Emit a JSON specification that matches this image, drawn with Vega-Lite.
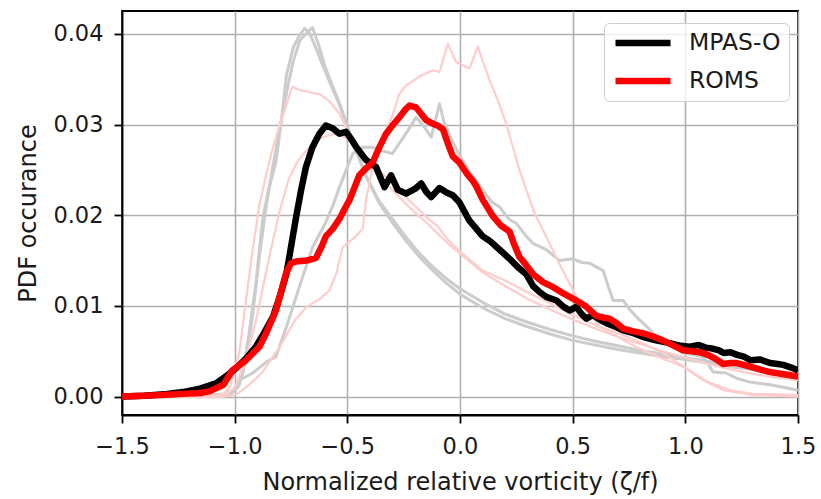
{
"$schema": "https://vega.github.io/schema/vega-lite/v6.json",
"width": 676, "height": 404,
"autosize": {"type": "none"},
"padding": {"left": 122, "top": 11, "right": 23, "bottom": 84},
"background": "white",
"config": {
  "font": "DejaVu Sans",
  "view": {"stroke": "black", "strokeWidth": 1.8},
  "axis": {"domainColor": "black", "domainWidth": 1.8, "tickColor": "black", "tickWidth": 1.8, "tickSize": 8,
    "gridColor": "#b0b0b0", "gridWidth": 1.6, "labelFont": "DejaVu Sans", "labelFontSize": 22.5, "labelColor": "#1a1a1a",
    "titleFont": "DejaVu Sans", "titleFontSize": 24, "titleFontWeight": "normal", "titleColor": "#1a1a1a",
    "labelFlush": false, "labelOverlap": false}
},
"datasets": {
"d": [
{"m":"MPAS-O","r":"mean","x":-1.5,"y":0},{"m":"MPAS-O","r":"mean","x":-1.4,"y":0.0001},{"m":"MPAS-O","r":"mean","x":-1.3,"y":0.0003},{"m":"MPAS-O","r":"mean","x":-1.23,"y":0.0005},{"m":"MPAS-O","r":"mean","x":-1.15,"y":0.0009},{"m":"MPAS-O","r":"mean","x":-1.08,"y":0.0015},{"m":"MPAS-O","r":"mean","x":-1.03,"y":0.0024},{"m":"MPAS-O","r":"mean","x":-0.995,"y":0.0031},{"m":"MPAS-O","r":"mean","x":-0.95,"y":0.0042},{"m":"MPAS-O","r":"mean","x":-0.906,"y":0.0055},{"m":"MPAS-O","r":"mean","x":-0.87,"y":0.007},{"m":"MPAS-O","r":"mean","x":-0.83,"y":0.0088},{"m":"MPAS-O","r":"mean","x":-0.8,"y":0.011},{"m":"MPAS-O","r":"mean","x":-0.77,"y":0.0136},{"m":"MPAS-O","r":"mean","x":-0.75,"y":0.0165},{"m":"MPAS-O","r":"mean","x":-0.728,"y":0.0197},{"m":"MPAS-O","r":"mean","x":-0.705,"y":0.0228},{"m":"MPAS-O","r":"mean","x":-0.684,"y":0.0253},{"m":"MPAS-O","r":"mean","x":-0.655,"y":0.0275},{"m":"MPAS-O","r":"mean","x":-0.624,"y":0.029},{"m":"MPAS-O","r":"mean","x":-0.595,"y":0.0299},{"m":"MPAS-O","r":"mean","x":-0.565,"y":0.0296},{"m":"MPAS-O","r":"mean","x":-0.535,"y":0.029},{"m":"MPAS-O","r":"mean","x":-0.506,"y":0.0292},{"m":"MPAS-O","r":"mean","x":-0.48,"y":0.0283},{"m":"MPAS-O","r":"mean","x":-0.46,"y":0.0275},{"m":"MPAS-O","r":"mean","x":-0.417,"y":0.0261},{"m":"MPAS-O","r":"mean","x":-0.372,"y":0.0253},{"m":"MPAS-O","r":"mean","x":-0.335,"y":0.0231},{"m":"MPAS-O","r":"mean","x":-0.306,"y":0.0244},{"m":"MPAS-O","r":"mean","x":-0.276,"y":0.0228},{"m":"MPAS-O","r":"mean","x":-0.239,"y":0.0224},{"m":"MPAS-O","r":"mean","x":-0.2,"y":0.0229},{"m":"MPAS-O","r":"mean","x":-0.172,"y":0.0235},{"m":"MPAS-O","r":"mean","x":-0.15,"y":0.0226},{"m":"MPAS-O","r":"mean","x":-0.128,"y":0.022},{"m":"MPAS-O","r":"mean","x":-0.091,"y":0.023},{"m":"MPAS-O","r":"mean","x":-0.06,"y":0.0225},{"m":"MPAS-O","r":"mean","x":-0.032,"y":0.0222},{"m":"MPAS-O","r":"mean","x":-0.002,"y":0.0214},{"m":"MPAS-O","r":"mean","x":0.042,"y":0.0194},{"m":"MPAS-O","r":"mean","x":0.1,"y":0.0177},{"m":"MPAS-O","r":"mean","x":0.131,"y":0.0172},{"m":"MPAS-O","r":"mean","x":0.176,"y":0.0162},{"m":"MPAS-O","r":"mean","x":0.22,"y":0.0152},{"m":"MPAS-O","r":"mean","x":0.26,"y":0.0142},{"m":"MPAS-O","r":"mean","x":0.294,"y":0.0135},{"m":"MPAS-O","r":"mean","x":0.324,"y":0.0122},{"m":"MPAS-O","r":"mean","x":0.355,"y":0.0115},{"m":"MPAS-O","r":"mean","x":0.383,"y":0.011},{"m":"MPAS-O","r":"mean","x":0.428,"y":0.0106},{"m":"MPAS-O","r":"mean","x":0.46,"y":0.0099},{"m":"MPAS-O","r":"mean","x":0.487,"y":0.0095},{"m":"MPAS-O","r":"mean","x":0.516,"y":0.0099},{"m":"MPAS-O","r":"mean","x":0.54,"y":0.0091},{"m":"MPAS-O","r":"mean","x":0.561,"y":0.0086},{"m":"MPAS-O","r":"mean","x":0.59,"y":0.009},{"m":"MPAS-O","r":"mean","x":0.62,"y":0.0085},{"m":"MPAS-O","r":"mean","x":0.65,"y":0.0081},{"m":"MPAS-O","r":"mean","x":0.69,"y":0.0077},{"m":"MPAS-O","r":"mean","x":0.724,"y":0.0073},{"m":"MPAS-O","r":"mean","x":0.77,"y":0.007},{"m":"MPAS-O","r":"mean","x":0.81,"y":0.0066},{"m":"MPAS-O","r":"mean","x":0.87,"y":0.0062},{"m":"MPAS-O","r":"mean","x":0.93,"y":0.0059},{"m":"MPAS-O","r":"mean","x":0.98,"y":0.0056},{"m":"MPAS-O","r":"mean","x":1.02,"y":0.0055},{"m":"MPAS-O","r":"mean","x":1.06,"y":0.0057},{"m":"MPAS-O","r":"mean","x":1.09,"y":0.0054},{"m":"MPAS-O","r":"mean","x":1.12,"y":0.0053},{"m":"MPAS-O","r":"mean","x":1.15,"y":0.0051},{"m":"MPAS-O","r":"mean","x":1.17,"y":0.0048},{"m":"MPAS-O","r":"mean","x":1.2,"y":0.0049},{"m":"MPAS-O","r":"mean","x":1.23,"y":0.0046},{"m":"MPAS-O","r":"mean","x":1.26,"y":0.0044},{"m":"MPAS-O","r":"mean","x":1.29,"y":0.004},{"m":"MPAS-O","r":"mean","x":1.33,"y":0.0041},{"m":"MPAS-O","r":"mean","x":1.376,"y":0.0037},{"m":"MPAS-O","r":"mean","x":1.41,"y":0.0036},{"m":"MPAS-O","r":"mean","x":1.435,"y":0.0035},{"m":"MPAS-O","r":"mean","x":1.47,"y":0.0032},{"m":"MPAS-O","r":"mean","x":1.5,"y":0.0029},
{"m":"ROMS","r":"mean","x":-1.5,"y":0},{"m":"ROMS","r":"mean","x":-1.4,"y":0.0001},{"m":"ROMS","r":"mean","x":-1.3,"y":0.0002},{"m":"ROMS","r":"mean","x":-1.23,"y":0.0003},{"m":"ROMS","r":"mean","x":-1.15,"y":0.0004},{"m":"ROMS","r":"mean","x":-1.11,"y":0.0006},{"m":"ROMS","r":"mean","x":-1.05,"y":0.0013},{"m":"ROMS","r":"mean","x":-1.01,"y":0.0029},{"m":"ROMS","r":"mean","x":-0.95,"y":0.004},{"m":"ROMS","r":"mean","x":-0.89,"y":0.0055},{"m":"ROMS","r":"mean","x":-0.86,"y":0.007},{"m":"ROMS","r":"mean","x":-0.817,"y":0.0095},{"m":"ROMS","r":"mean","x":-0.795,"y":0.0115},{"m":"ROMS","r":"mean","x":-0.772,"y":0.0136},{"m":"ROMS","r":"mean","x":-0.75,"y":0.0147},{"m":"ROMS","r":"mean","x":-0.728,"y":0.0149},{"m":"ROMS","r":"mean","x":-0.68,"y":0.015},{"m":"ROMS","r":"mean","x":-0.639,"y":0.0153},{"m":"ROMS","r":"mean","x":-0.615,"y":0.0165},{"m":"ROMS","r":"mean","x":-0.595,"y":0.0177},{"m":"ROMS","r":"mean","x":-0.565,"y":0.0185},{"m":"ROMS","r":"mean","x":-0.535,"y":0.0196},{"m":"ROMS","r":"mean","x":-0.51,"y":0.0208},{"m":"ROMS","r":"mean","x":-0.49,"y":0.0217},{"m":"ROMS","r":"mean","x":-0.447,"y":0.0244},{"m":"ROMS","r":"mean","x":-0.42,"y":0.0251},{"m":"ROMS","r":"mean","x":-0.388,"y":0.0258},{"m":"ROMS","r":"mean","x":-0.36,"y":0.0274},{"m":"ROMS","r":"mean","x":-0.328,"y":0.029},{"m":"ROMS","r":"mean","x":-0.3,"y":0.0299},{"m":"ROMS","r":"mean","x":-0.269,"y":0.0308},{"m":"ROMS","r":"mean","x":-0.245,"y":0.0316},{"m":"ROMS","r":"mean","x":-0.224,"y":0.0321},{"m":"ROMS","r":"mean","x":-0.195,"y":0.0319},{"m":"ROMS","r":"mean","x":-0.17,"y":0.0311},{"m":"ROMS","r":"mean","x":-0.15,"y":0.0305},{"m":"ROMS","r":"mean","x":-0.121,"y":0.0301},{"m":"ROMS","r":"mean","x":-0.1,"y":0.0299},{"m":"ROMS","r":"mean","x":-0.076,"y":0.0295},{"m":"ROMS","r":"mean","x":-0.055,"y":0.028},{"m":"ROMS","r":"mean","x":-0.032,"y":0.0265},{"m":"ROMS","r":"mean","x":-0.002,"y":0.0258},{"m":"ROMS","r":"mean","x":0.03,"y":0.0246},{"m":"ROMS","r":"mean","x":0.057,"y":0.0238},{"m":"ROMS","r":"mean","x":0.072,"y":0.0232},{"m":"ROMS","r":"mean","x":0.101,"y":0.0217},{"m":"ROMS","r":"mean","x":0.146,"y":0.0199},{"m":"ROMS","r":"mean","x":0.18,"y":0.0189},{"m":"ROMS","r":"mean","x":0.22,"y":0.0182},{"m":"ROMS","r":"mean","x":0.24,"y":0.0168},{"m":"ROMS","r":"mean","x":0.264,"y":0.0154},{"m":"ROMS","r":"mean","x":0.294,"y":0.0145},{"m":"ROMS","r":"mean","x":0.324,"y":0.0135},{"m":"ROMS","r":"mean","x":0.37,"y":0.0126},{"m":"ROMS","r":"mean","x":0.412,"y":0.0121},{"m":"ROMS","r":"mean","x":0.45,"y":0.0115},{"m":"ROMS","r":"mean","x":0.487,"y":0.011},{"m":"ROMS","r":"mean","x":0.53,"y":0.0104},{"m":"ROMS","r":"mean","x":0.561,"y":0.0099},{"m":"ROMS","r":"mean","x":0.605,"y":0.0089},{"m":"ROMS","r":"mean","x":0.64,"y":0.0087},{"m":"ROMS","r":"mean","x":0.664,"y":0.0086},{"m":"ROMS","r":"mean","x":0.7,"y":0.008},{"m":"ROMS","r":"mean","x":0.724,"y":0.0075},{"m":"ROMS","r":"mean","x":0.77,"y":0.0072},{"m":"ROMS","r":"mean","x":0.81,"y":0.007},{"m":"ROMS","r":"mean","x":0.86,"y":0.0066},{"m":"ROMS","r":"mean","x":0.9,"y":0.0062},{"m":"ROMS","r":"mean","x":0.95,"y":0.0056},{"m":"ROMS","r":"mean","x":0.99,"y":0.0051},{"m":"ROMS","r":"mean","x":1.03,"y":0.005},{"m":"ROMS","r":"mean","x":1.064,"y":0.0049},{"m":"ROMS","r":"mean","x":1.1,"y":0.0046},{"m":"ROMS","r":"mean","x":1.124,"y":0.0043},{"m":"ROMS","r":"mean","x":1.15,"y":0.0039},{"m":"ROMS","r":"mean","x":1.168,"y":0.0036},{"m":"ROMS","r":"mean","x":1.2,"y":0.0037},{"m":"ROMS","r":"mean","x":1.228,"y":0.0037},{"m":"ROMS","r":"mean","x":1.26,"y":0.0035},{"m":"ROMS","r":"mean","x":1.287,"y":0.0033},{"m":"ROMS","r":"mean","x":1.33,"y":0.003},{"m":"ROMS","r":"mean","x":1.376,"y":0.0027},{"m":"ROMS","r":"mean","x":1.43,"y":0.0025},{"m":"ROMS","r":"mean","x":1.5,"y":0.0022},
{"m":"MPAS-O","r":"a","x":-1.5,"y":0},{"m":"MPAS-O","r":"a","x":-1.2,"y":0},{"m":"MPAS-O","r":"a","x":-1.05,"y":0.0003},{"m":"MPAS-O","r":"a","x":-1.0,"y":0.0008},{"m":"MPAS-O","r":"a","x":-0.965,"y":0.0025},{"m":"MPAS-O","r":"a","x":-0.936,"y":0.007},{"m":"MPAS-O","r":"a","x":-0.906,"y":0.0125},{"m":"MPAS-O","r":"a","x":-0.876,"y":0.0195},{"m":"MPAS-O","r":"a","x":-0.85,"y":0.0228},{"m":"MPAS-O","r":"a","x":-0.817,"y":0.0258},{"m":"MPAS-O","r":"a","x":-0.79,"y":0.031},{"m":"MPAS-O","r":"a","x":-0.77,"y":0.0355},{"m":"MPAS-O","r":"a","x":-0.74,"y":0.0385},{"m":"MPAS-O","r":"a","x":-0.713,"y":0.0398},{"m":"MPAS-O","r":"a","x":-0.69,"y":0.0406},{"m":"MPAS-O","r":"a","x":-0.67,"y":0.0402},{"m":"MPAS-O","r":"a","x":-0.64,"y":0.0385},{"m":"MPAS-O","r":"a","x":-0.62,"y":0.0372},{"m":"MPAS-O","r":"a","x":-0.595,"y":0.0357},{"m":"MPAS-O","r":"a","x":-0.565,"y":0.0339},{"m":"MPAS-O","r":"a","x":-0.535,"y":0.0322},{"m":"MPAS-O","r":"a","x":-0.506,"y":0.0301},{"m":"MPAS-O","r":"a","x":-0.46,"y":0.0271},{"m":"MPAS-O","r":"a","x":-0.417,"y":0.0243},{"m":"MPAS-O","r":"a","x":-0.36,"y":0.0216},{"m":"MPAS-O","r":"a","x":-0.3,"y":0.0196},{"m":"MPAS-O","r":"a","x":-0.24,"y":0.0176},{"m":"MPAS-O","r":"a","x":-0.18,"y":0.0158},{"m":"MPAS-O","r":"a","x":-0.12,"y":0.0143},{"m":"MPAS-O","r":"a","x":-0.06,"y":0.013},{"m":"MPAS-O","r":"a","x":0,"y":0.0119},{"m":"MPAS-O","r":"a","x":0.1,"y":0.0104},{"m":"MPAS-O","r":"a","x":0.2,"y":0.0091},{"m":"MPAS-O","r":"a","x":0.3,"y":0.0082},{"m":"MPAS-O","r":"a","x":0.4,"y":0.0074},{"m":"MPAS-O","r":"a","x":0.5,"y":0.0067},{"m":"MPAS-O","r":"a","x":0.6,"y":0.0061},{"m":"MPAS-O","r":"a","x":0.7,"y":0.0056},{"m":"MPAS-O","r":"a","x":0.8,"y":0.0051},{"m":"MPAS-O","r":"a","x":0.9,"y":0.0047},{"m":"MPAS-O","r":"a","x":1.0,"y":0.0043},{"m":"MPAS-O","r":"a","x":1.1,"y":0.0039},{"m":"MPAS-O","r":"a","x":1.2,"y":0.0035},{"m":"MPAS-O","r":"a","x":1.3,"y":0.0031},{"m":"MPAS-O","r":"a","x":1.4,"y":0.0028},{"m":"MPAS-O","r":"a","x":1.5,"y":0.0025},
{"m":"MPAS-O","r":"b","x":-1.5,"y":0},{"m":"MPAS-O","r":"b","x":-1.2,"y":0},{"m":"MPAS-O","r":"b","x":-1.02,"y":0.0002},{"m":"MPAS-O","r":"b","x":-0.98,"y":0.0012},{"m":"MPAS-O","r":"b","x":-0.95,"y":0.004},{"m":"MPAS-O","r":"b","x":-0.92,"y":0.009},{"m":"MPAS-O","r":"b","x":-0.89,"y":0.0155},{"m":"MPAS-O","r":"b","x":-0.86,"y":0.021},{"m":"MPAS-O","r":"b","x":-0.83,"y":0.0255},{"m":"MPAS-O","r":"b","x":-0.8,"y":0.0295},{"m":"MPAS-O","r":"b","x":-0.77,"y":0.0335},{"m":"MPAS-O","r":"b","x":-0.74,"y":0.037},{"m":"MPAS-O","r":"b","x":-0.71,"y":0.0393},{"m":"MPAS-O","r":"b","x":-0.68,"y":0.0401},{"m":"MPAS-O","r":"b","x":-0.655,"y":0.0407},{"m":"MPAS-O","r":"b","x":-0.63,"y":0.039},{"m":"MPAS-O","r":"b","x":-0.6,"y":0.0365},{"m":"MPAS-O","r":"b","x":-0.57,"y":0.0345},{"m":"MPAS-O","r":"b","x":-0.54,"y":0.0327},{"m":"MPAS-O","r":"b","x":-0.51,"y":0.0306},{"m":"MPAS-O","r":"b","x":-0.47,"y":0.0277},{"m":"MPAS-O","r":"b","x":-0.42,"y":0.0245},{"m":"MPAS-O","r":"b","x":-0.36,"y":0.0214},{"m":"MPAS-O","r":"b","x":-0.3,"y":0.0192},{"m":"MPAS-O","r":"b","x":-0.24,"y":0.0172},{"m":"MPAS-O","r":"b","x":-0.18,"y":0.0154},{"m":"MPAS-O","r":"b","x":-0.12,"y":0.0139},{"m":"MPAS-O","r":"b","x":-0.06,"y":0.0125},{"m":"MPAS-O","r":"b","x":0,"y":0.0113},{"m":"MPAS-O","r":"b","x":0.1,"y":0.0098},{"m":"MPAS-O","r":"b","x":0.2,"y":0.0086},{"m":"MPAS-O","r":"b","x":0.3,"y":0.0077},{"m":"MPAS-O","r":"b","x":0.4,"y":0.0069},{"m":"MPAS-O","r":"b","x":0.5,"y":0.0062},{"m":"MPAS-O","r":"b","x":0.6,"y":0.0057},{"m":"MPAS-O","r":"b","x":0.7,"y":0.0052},{"m":"MPAS-O","r":"b","x":0.8,"y":0.0048},{"m":"MPAS-O","r":"b","x":0.9,"y":0.0044},{"m":"MPAS-O","r":"b","x":1.0,"y":0.0041},{"m":"MPAS-O","r":"b","x":1.1,"y":0.0037},{"m":"MPAS-O","r":"b","x":1.2,"y":0.0033},{"m":"MPAS-O","r":"b","x":1.3,"y":0.003},{"m":"MPAS-O","r":"b","x":1.4,"y":0.0026},{"m":"MPAS-O","r":"b","x":1.5,"y":0.0023},
{"m":"MPAS-O","r":"c","x":-1.5,"y":0},{"m":"MPAS-O","r":"c","x":-1.1,"y":0},{"m":"MPAS-O","r":"c","x":-1.02,"y":0.0002},{"m":"MPAS-O","r":"c","x":-0.98,"y":0.0018},{"m":"MPAS-O","r":"c","x":-0.92,"y":0.0026},{"m":"MPAS-O","r":"c","x":-0.86,"y":0.0038},{"m":"MPAS-O","r":"c","x":-0.817,"y":0.0044},{"m":"MPAS-O","r":"c","x":-0.77,"y":0.0077},{"m":"MPAS-O","r":"c","x":-0.713,"y":0.0121},{"m":"MPAS-O","r":"c","x":-0.654,"y":0.0165},{"m":"MPAS-O","r":"c","x":-0.6,"y":0.019},{"m":"MPAS-O","r":"c","x":-0.565,"y":0.021},{"m":"MPAS-O","r":"c","x":-0.535,"y":0.0231},{"m":"MPAS-O","r":"c","x":-0.476,"y":0.0268},{"m":"MPAS-O","r":"c","x":-0.432,"y":0.0275},{"m":"MPAS-O","r":"c","x":-0.388,"y":0.0275},{"m":"MPAS-O","r":"c","x":-0.358,"y":0.0272},{"m":"MPAS-O","r":"c","x":-0.3,"y":0.0268},{"m":"MPAS-O","r":"c","x":-0.24,"y":0.029},{"m":"MPAS-O","r":"c","x":-0.195,"y":0.0308},{"m":"MPAS-O","r":"c","x":-0.16,"y":0.0298},{"m":"MPAS-O","r":"c","x":-0.128,"y":0.0286},{"m":"MPAS-O","r":"c","x":-0.091,"y":0.0323},{"m":"MPAS-O","r":"c","x":-0.069,"y":0.0301},{"m":"MPAS-O","r":"c","x":-0.04,"y":0.0285},{"m":"MPAS-O","r":"c","x":0,"y":0.0265},{"m":"MPAS-O","r":"c","x":0.05,"y":0.0245},{"m":"MPAS-O","r":"c","x":0.1,"y":0.0228},{"m":"MPAS-O","r":"c","x":0.14,"y":0.0215},{"m":"MPAS-O","r":"c","x":0.176,"y":0.0209},{"m":"MPAS-O","r":"c","x":0.22,"y":0.0195},{"m":"MPAS-O","r":"c","x":0.25,"y":0.0191},{"m":"MPAS-O","r":"c","x":0.29,"y":0.0178},{"m":"MPAS-O","r":"c","x":0.324,"y":0.0169},{"m":"MPAS-O","r":"c","x":0.383,"y":0.0162},{"m":"MPAS-O","r":"c","x":0.442,"y":0.015},{"m":"MPAS-O","r":"c","x":0.501,"y":0.0152},{"m":"MPAS-O","r":"c","x":0.54,"y":0.0148},{"m":"MPAS-O","r":"c","x":0.576,"y":0.0147},{"m":"MPAS-O","r":"c","x":0.635,"y":0.0139},{"m":"MPAS-O","r":"c","x":0.66,"y":0.012},{"m":"MPAS-O","r":"c","x":0.68,"y":0.0106},{"m":"MPAS-O","r":"c","x":0.724,"y":0.0106},{"m":"MPAS-O","r":"c","x":0.75,"y":0.0097},{"m":"MPAS-O","r":"c","x":0.783,"y":0.0088},{"m":"MPAS-O","r":"c","x":0.83,"y":0.0077},{"m":"MPAS-O","r":"c","x":0.872,"y":0.0066},{"m":"MPAS-O","r":"c","x":0.93,"y":0.0057},{"m":"MPAS-O","r":"c","x":0.99,"y":0.0048},{"m":"MPAS-O","r":"c","x":1.04,"y":0.0046},{"m":"MPAS-O","r":"c","x":1.08,"y":0.0044},{"m":"MPAS-O","r":"c","x":1.124,"y":0.0027},{"m":"MPAS-O","r":"c","x":1.18,"y":0.0026},{"m":"MPAS-O","r":"c","x":1.23,"y":0.002},{"m":"MPAS-O","r":"c","x":1.287,"y":0.0016},{"m":"MPAS-O","r":"c","x":1.376,"y":0.0013},{"m":"MPAS-O","r":"c","x":1.44,"y":0.001},{"m":"MPAS-O","r":"c","x":1.5,"y":0.0007},
{"m":"ROMS","r":"a","x":-1.5,"y":0},{"m":"ROMS","r":"a","x":-1.1,"y":0},{"m":"ROMS","r":"a","x":-1.05,"y":0.0003},{"m":"ROMS","r":"a","x":-1.02,"y":0.0011},{"m":"ROMS","r":"a","x":-0.98,"y":0.0048},{"m":"ROMS","r":"a","x":-0.95,"y":0.0106},{"m":"ROMS","r":"a","x":-0.92,"y":0.0162},{"m":"ROMS","r":"a","x":-0.89,"y":0.0212},{"m":"ROMS","r":"a","x":-0.86,"y":0.0245},{"m":"ROMS","r":"a","x":-0.83,"y":0.0275},{"m":"ROMS","r":"a","x":-0.8,"y":0.03},{"m":"ROMS","r":"a","x":-0.772,"y":0.032},{"m":"ROMS","r":"a","x":-0.745,"y":0.0342},{"m":"ROMS","r":"a","x":-0.71,"y":0.0338},{"m":"ROMS","r":"a","x":-0.67,"y":0.0336},{"m":"ROMS","r":"a","x":-0.62,"y":0.0333},{"m":"ROMS","r":"a","x":-0.58,"y":0.0326},{"m":"ROMS","r":"a","x":-0.535,"y":0.0312},{"m":"ROMS","r":"a","x":-0.506,"y":0.0297},{"m":"ROMS","r":"a","x":-0.46,"y":0.0278},{"m":"ROMS","r":"a","x":-0.417,"y":0.0264},{"m":"ROMS","r":"a","x":-0.37,"y":0.0252},{"m":"ROMS","r":"a","x":-0.328,"y":0.0242},{"m":"ROMS","r":"a","x":-0.28,"y":0.0232},{"m":"ROMS","r":"a","x":-0.239,"y":0.022},{"m":"ROMS","r":"a","x":-0.19,"y":0.0208},{"m":"ROMS","r":"a","x":-0.15,"y":0.0198},{"m":"ROMS","r":"a","x":-0.1,"y":0.0188},{"m":"ROMS","r":"a","x":-0.05,"y":0.0172},{"m":"ROMS","r":"a","x":0,"y":0.016},{"m":"ROMS","r":"a","x":0.1,"y":0.0139},{"m":"ROMS","r":"a","x":0.2,"y":0.0128},{"m":"ROMS","r":"a","x":0.3,"y":0.0115},{"m":"ROMS","r":"a","x":0.4,"y":0.0103},{"m":"ROMS","r":"a","x":0.5,"y":0.009},{"m":"ROMS","r":"a","x":0.6,"y":0.0079},{"m":"ROMS","r":"a","x":0.7,"y":0.007},{"m":"ROMS","r":"a","x":0.8,"y":0.006},{"m":"ROMS","r":"a","x":0.9,"y":0.0048},{"m":"ROMS","r":"a","x":1.0,"y":0.0032},{"m":"ROMS","r":"a","x":1.1,"y":0.0016},{"m":"ROMS","r":"a","x":1.2,"y":0.0007},{"m":"ROMS","r":"a","x":1.3,"y":0.0003},{"m":"ROMS","r":"a","x":1.5,"y":0.0002},
{"m":"ROMS","r":"b","x":-1.5,"y":0},{"m":"ROMS","r":"b","x":-1.05,"y":0},{"m":"ROMS","r":"b","x":-1.0,"y":0.001},{"m":"ROMS","r":"b","x":-0.95,"y":0.004},{"m":"ROMS","r":"b","x":-0.9,"y":0.009},{"m":"ROMS","r":"b","x":-0.85,"y":0.015},{"m":"ROMS","r":"b","x":-0.8,"y":0.0205},{"m":"ROMS","r":"b","x":-0.76,"y":0.024},{"m":"ROMS","r":"b","x":-0.72,"y":0.026},{"m":"ROMS","r":"b","x":-0.68,"y":0.0272},{"m":"ROMS","r":"b","x":-0.62,"y":0.0285},{"m":"ROMS","r":"b","x":-0.56,"y":0.029},{"m":"ROMS","r":"b","x":-0.5,"y":0.0285},{"m":"ROMS","r":"b","x":-0.45,"y":0.027},{"m":"ROMS","r":"b","x":-0.4,"y":0.0255},{"m":"ROMS","r":"b","x":-0.35,"y":0.024},{"m":"ROMS","r":"b","x":-0.3,"y":0.0228},{"m":"ROMS","r":"b","x":-0.25,"y":0.0215},{"m":"ROMS","r":"b","x":-0.2,"y":0.0203},{"m":"ROMS","r":"b","x":-0.15,"y":0.0192},{"m":"ROMS","r":"b","x":-0.1,"y":0.018},{"m":"ROMS","r":"b","x":-0.05,"y":0.0168},{"m":"ROMS","r":"b","x":0,"y":0.0158},{"m":"ROMS","r":"b","x":0.1,"y":0.0137},{"m":"ROMS","r":"b","x":0.2,"y":0.0122},{"m":"ROMS","r":"b","x":0.3,"y":0.0108},{"m":"ROMS","r":"b","x":0.4,"y":0.0096},{"m":"ROMS","r":"b","x":0.5,"y":0.0085},{"m":"ROMS","r":"b","x":0.6,"y":0.0075},{"m":"ROMS","r":"b","x":0.7,"y":0.0066},{"m":"ROMS","r":"b","x":0.8,"y":0.0058},{"m":"ROMS","r":"b","x":0.9,"y":0.005},{"m":"ROMS","r":"b","x":1.0,"y":0.0043},{"m":"ROMS","r":"b","x":1.1,"y":0.0036},{"m":"ROMS","r":"b","x":1.2,"y":0.003},{"m":"ROMS","r":"b","x":1.3,"y":0.0025},{"m":"ROMS","r":"b","x":1.4,"y":0.0021},{"m":"ROMS","r":"b","x":1.5,"y":0.0018},
{"m":"ROMS","r":"c","x":-1.5,"y":0},{"m":"ROMS","r":"c","x":-1.05,"y":0},{"m":"ROMS","r":"c","x":-0.995,"y":0.0002},{"m":"ROMS","r":"c","x":-0.94,"y":0.0012},{"m":"ROMS","r":"c","x":-0.88,"y":0.0026},{"m":"ROMS","r":"c","x":-0.8,"y":0.0055},{"m":"ROMS","r":"c","x":-0.73,"y":0.0085},{"m":"ROMS","r":"c","x":-0.68,"y":0.0099},{"m":"ROMS","r":"c","x":-0.62,"y":0.0108},{"m":"ROMS","r":"c","x":-0.58,"y":0.0117},{"m":"ROMS","r":"c","x":-0.55,"y":0.0135},{"m":"ROMS","r":"c","x":-0.52,"y":0.0165},{"m":"ROMS","r":"c","x":-0.47,"y":0.0175},{"m":"ROMS","r":"c","x":-0.432,"y":0.0185},{"m":"ROMS","r":"c","x":-0.417,"y":0.0217},{"m":"ROMS","r":"c","x":-0.39,"y":0.025},{"m":"ROMS","r":"c","x":-0.344,"y":0.0283},{"m":"ROMS","r":"c","x":-0.3,"y":0.031},{"m":"ROMS","r":"c","x":-0.269,"y":0.0334},{"m":"ROMS","r":"c","x":-0.24,"y":0.0343},{"m":"ROMS","r":"c","x":-0.18,"y":0.0353},{"m":"ROMS","r":"c","x":-0.121,"y":0.036},{"m":"ROMS","r":"c","x":-0.091,"y":0.0358},{"m":"ROMS","r":"c","x":-0.054,"y":0.0389},{"m":"ROMS","r":"c","x":-0.017,"y":0.0369},{"m":"ROMS","r":"c","x":0.042,"y":0.0362},{"m":"ROMS","r":"c","x":0.079,"y":0.0386},{"m":"ROMS","r":"c","x":0.131,"y":0.0349},{"m":"ROMS","r":"c","x":0.168,"y":0.0327},{"m":"ROMS","r":"c","x":0.205,"y":0.0301},{"m":"ROMS","r":"c","x":0.235,"y":0.0275},{"m":"ROMS","r":"c","x":0.264,"y":0.025},{"m":"ROMS","r":"c","x":0.294,"y":0.0228},{"m":"ROMS","r":"c","x":0.33,"y":0.0203},{"m":"ROMS","r":"c","x":0.397,"y":0.0169},{"m":"ROMS","r":"c","x":0.44,"y":0.0147},{"m":"ROMS","r":"c","x":0.517,"y":0.011},{"m":"ROMS","r":"c","x":0.62,"y":0.0077},{"m":"ROMS","r":"c","x":0.7,"y":0.0066},{"m":"ROMS","r":"c","x":0.78,"y":0.0055},{"m":"ROMS","r":"c","x":0.88,"y":0.0044},{"m":"ROMS","r":"c","x":0.99,"y":0.0033},{"m":"ROMS","r":"c","x":1.08,"y":0.0018},{"m":"ROMS","r":"c","x":1.17,"y":0.0007},{"m":"ROMS","r":"c","x":1.29,"y":0.0002},{"m":"ROMS","r":"c","x":1.4,"y":0.0001},{"m":"ROMS","r":"c","x":1.5,"y":0}
]
},
"data": {"name": "d"},
"encoding": {
  "x": {"field": "x", "type": "quantitative", "scale": {"domain": [-1.5, 1.5], "nice": false, "zero": false},
    "axis": {"title": "Normalized relative vorticity (ζ/f)", "values": [-1.5, -1, -0.5, 0, 0.5, 1, 1.5], "format": ".1f", "labelPadding": 12, "titlePadding": 13}},
  "y": {"field": "y", "type": "quantitative", "scale": {"domain": [-0.00203, 0.04253], "nice": false, "zero": false},
    "axis": {"title": "PDF occurance", "values": [0, 0.01, 0.02, 0.03, 0.04], "format": ".2f", "labelPadding": 11, "titlePadding": 12}}
},
"layer": [
  {
    "transform": [{"filter": "datum.r !== 'mean'"}],
    "mark": {"type": "line", "strokeJoin": "round", "clip": true},
    "encoding": {
      "color": {"field": "m", "type": "nominal", "scale": {"domain": ["MPAS-O", "ROMS"], "range": ["#cccccc", "#ffcccc"]}, "legend": null},
      "strokeWidth": {"field": "m", "type": "ordinal", "scale": {"domain": ["MPAS-O", "ROMS"], "range": [3, 2.2]}, "legend": null},
      "detail": {"field": "r", "type": "nominal"}
    }
  },
  {
    "transform": [{"filter": "datum.r === 'mean'"}],
    "mark": {"type": "line", "strokeWidth": 6.5, "strokeJoin": "round", "clip": true},
    "encoding": {
      "color": {"field": "m", "type": "nominal", "scale": {"domain": ["MPAS-O", "ROMS"], "range": ["#000000", "#ff0000"]},
        "legend": {"title": null, "orient": "none", "legendX": 482, "legendY": 12, "symbolType": "stroke", "symbolSize": 3025,
          "symbolStrokeWidth": 6.5, "labelFontSize": 23.5, "labelFont": "DejaVu Sans", "labelColor": "#1a1a1a", "labelOffset": 15,
          "padding": 8, "rowPadding": 14, "clipHeight": 24, "fillColor": "rgba(255,255,255,0.8)", "strokeColor": "#d0d0d0",
          "cornerRadius": 5}}
    }
  }
],
"resolve": {"scale": {"color": "independent", "strokeWidth": "independent"}}
}
